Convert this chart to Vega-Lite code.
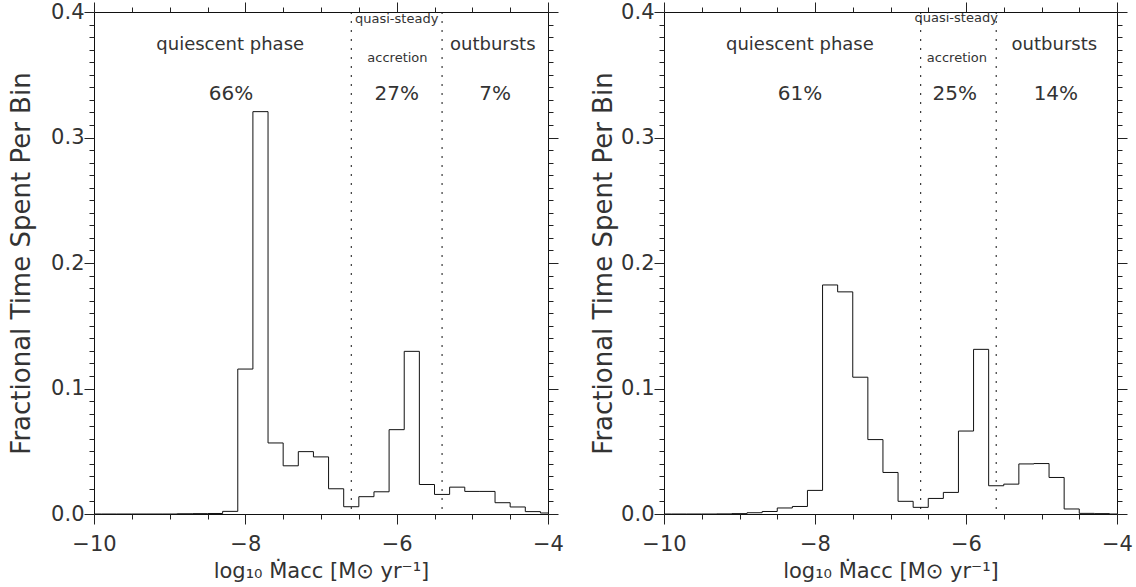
{
  "$schema": "https://vega.github.io/schema/vega-lite/v6.json",
  "padding": {"left": 8, "top": 0, "right": 5, "bottom": 2},
  "spacing": 116,
  "bounds": "flush",
  "config": {
    "view": {"stroke": "#111", "strokeWidth": 1},
    "axis": {
      "domain": false, "grid": false, "ticks": true, "zindex": 1,
      "labelFont": "DejaVu Sans", "labelFontSize": 21, "labelColor": "#333",
      "titleFont": "DejaVu Sans", "titleFontSize": 21, "titleFontWeight": "normal", "titleColor": "#333",
      "tickColor": "#222", "tickWidth": 1,
      "labelFlush": false, "labelOverlap": false
    },
    "text": {"font": "DejaVu Sans", "color": "#333"}
  },
  "datasets": {
    "hist": [
      {"panel": "L", "logMdot": -10.0, "frac": 0},
      {"panel": "L", "logMdot": -9.8, "frac": 0},
      {"panel": "L", "logMdot": -9.6, "frac": 0},
      {"panel": "L", "logMdot": -9.4, "frac": 0},
      {"panel": "L", "logMdot": -9.2, "frac": 0},
      {"panel": "L", "logMdot": -9.0, "frac": 0},
      {"panel": "L", "logMdot": -8.8, "frac": 0.0002},
      {"panel": "L", "logMdot": -8.6, "frac": 0.0003},
      {"panel": "L", "logMdot": -8.4, "frac": 0.0004},
      {"panel": "L", "logMdot": -8.2, "frac": 0.0021},
      {"panel": "L", "logMdot": -8.0, "frac": 0.1155},
      {"panel": "L", "logMdot": -7.8, "frac": 0.3206},
      {"panel": "L", "logMdot": -7.6, "frac": 0.0566},
      {"panel": "L", "logMdot": -7.4, "frac": 0.0384},
      {"panel": "L", "logMdot": -7.2, "frac": 0.0497},
      {"panel": "L", "logMdot": -7.0, "frac": 0.0455},
      {"panel": "L", "logMdot": -6.8, "frac": 0.0201},
      {"panel": "L", "logMdot": -6.6, "frac": 0.0058},
      {"panel": "L", "logMdot": -6.4, "frac": 0.0138},
      {"panel": "L", "logMdot": -6.2, "frac": 0.0177},
      {"panel": "L", "logMdot": -6.0, "frac": 0.0672},
      {"panel": "L", "logMdot": -5.8, "frac": 0.1296},
      {"panel": "L", "logMdot": -5.6, "frac": 0.0235},
      {"panel": "L", "logMdot": -5.4, "frac": 0.0156},
      {"panel": "L", "logMdot": -5.2, "frac": 0.0214},
      {"panel": "L", "logMdot": -5.0, "frac": 0.0180},
      {"panel": "L", "logMdot": -4.8, "frac": 0.0180},
      {"panel": "L", "logMdot": -4.6, "frac": 0.0090},
      {"panel": "L", "logMdot": -4.4, "frac": 0.0056},
      {"panel": "L", "logMdot": -4.2, "frac": 0.0019},
      {"panel": "L", "logMdot": -4.0, "frac": 0.0008},
      {"panel": "R", "logMdot": -10.0, "frac": 0},
      {"panel": "R", "logMdot": -9.8, "frac": 0},
      {"panel": "R", "logMdot": -9.6, "frac": 0},
      {"panel": "R", "logMdot": -9.4, "frac": 0},
      {"panel": "R", "logMdot": -9.2, "frac": 0.0001},
      {"panel": "R", "logMdot": -9.0, "frac": 0.0003},
      {"panel": "R", "logMdot": -8.8, "frac": 0.0010},
      {"panel": "R", "logMdot": -8.6, "frac": 0.0020},
      {"panel": "R", "logMdot": -8.4, "frac": 0.0048},
      {"panel": "R", "logMdot": -8.2, "frac": 0.0060},
      {"panel": "R", "logMdot": -8.0, "frac": 0.0188},
      {"panel": "R", "logMdot": -7.8, "frac": 0.1825},
      {"panel": "R", "logMdot": -7.6, "frac": 0.1770},
      {"panel": "R", "logMdot": -7.4, "frac": 0.1090},
      {"panel": "R", "logMdot": -7.2, "frac": 0.0593},
      {"panel": "R", "logMdot": -7.0, "frac": 0.0331},
      {"panel": "R", "logMdot": -6.8, "frac": 0.0101},
      {"panel": "R", "logMdot": -6.6, "frac": 0.0053},
      {"panel": "R", "logMdot": -6.4, "frac": 0.0124},
      {"panel": "R", "logMdot": -6.2, "frac": 0.0172},
      {"panel": "R", "logMdot": -6.0, "frac": 0.0661},
      {"panel": "R", "logMdot": -5.8, "frac": 0.1312},
      {"panel": "R", "logMdot": -5.6, "frac": 0.0225},
      {"panel": "R", "logMdot": -5.4, "frac": 0.0238},
      {"panel": "R", "logMdot": -5.2, "frac": 0.0399},
      {"panel": "R", "logMdot": -5.0, "frac": 0.0402},
      {"panel": "R", "logMdot": -4.8, "frac": 0.0291},
      {"panel": "R", "logMdot": -4.6, "frac": 0.0040},
      {"panel": "R", "logMdot": -4.4, "frac": 0.0005},
      {"panel": "R", "logMdot": -4.2, "frac": 0.0003},
      {"panel": "R", "logMdot": -4.0, "frac": 0}
    ],
    "dividers": [
      {"panel": "L", "logMdot": -6.6},
      {"panel": "L", "logMdot": -5.4},
      {"panel": "R", "logMdot": -6.6},
      {"panel": "R", "logMdot": -5.6}
    ],
    "notes": [
      {"panel": "L", "kind": "phase", "label": "quiescent phase", "logMdot": -8.2, "frac": 0.370},
      {"panel": "L", "kind": "phase", "label": "outbursts", "logMdot": -4.73, "frac": 0.370},
      {"panel": "L", "kind": "pct", "label": "66%", "logMdot": -8.19, "frac": 0.3296},
      {"panel": "L", "kind": "pct", "label": "27%", "logMdot": -6.0, "frac": 0.3296},
      {"panel": "L", "kind": "pct", "label": "7%", "logMdot": -4.70, "frac": 0.3296},
      {"panel": "L", "kind": "small", "label": "quasi-steady", "logMdot": -6.0, "frac": 0.391},
      {"panel": "L", "kind": "small", "label": "accretion", "logMdot": -5.99, "frac": 0.360},
      {"panel": "R", "kind": "phase", "label": "quiescent phase", "logMdot": -8.2, "frac": 0.370},
      {"panel": "R", "kind": "phase", "label": "outbursts", "logMdot": -4.83, "frac": 0.370},
      {"panel": "R", "kind": "pct", "label": "61%", "logMdot": -8.2, "frac": 0.3296},
      {"panel": "R", "kind": "pct", "label": "25%", "logMdot": -6.15, "frac": 0.3296},
      {"panel": "R", "kind": "pct", "label": "14%", "logMdot": -4.81, "frac": 0.3296},
      {"panel": "R", "kind": "small", "label": "quasi-steady", "logMdot": -6.13, "frac": 0.392},
      {"panel": "R", "kind": "small", "label": "accretion", "logMdot": -6.12, "frac": 0.3605}
    ]
  },
  "hconcat": [
    {
      "width": 454, "height": 502,
      "resolve": {"axis": {"x": "independent", "y": "independent"}},
      "layer": [
        {
          "data": {"name": "hist"},
          "transform": [{"filter": "datum.panel === 'L'"}],
          "mark": {"type": "line", "interpolate": "step", "color": "#111", "strokeWidth": 1, "clip": true},
          "encoding": {
            "x": {"field": "logMdot", "type": "quantitative", "scale": {"domain": [-10, -4], "nice": false, "zero": false},
                  "axis": {"orient": "bottom", "values": [-10, -8, -6, -4], "format": "d", "tickSize": 10, "labelPadding": 9, "title": "log₁₀ Ṁacc [M⊙ yr⁻¹]", "titlePadding": 6}},
            "y": {"field": "frac", "type": "quantitative", "scale": {"domain": [0, 0.4], "nice": false, "zero": false},
                  "axis": {"orient": "left", "values": [0, 0.1, 0.2, 0.3, 0.4], "format": ".1f", "tickSize": 10, "labelPadding": 0, "title": "Fractional Time Spent Per Bin", "titleFontSize": 26, "titlePadding": 16}}
          }
        },
        {
          "data": {"name": "notes"},
          "transform": [{"filter": "datum.panel === 'L' && datum.kind === 'phase'"}],
          "mark": {"type": "text", "fontSize": 18, "align": "center", "baseline": "alphabetic"},
          "encoding": {
            "x": {"field": "logMdot", "type": "quantitative", "scale": {"domain": [-10, -4], "nice": false, "zero": false},
                  "axis": {"orient": "top", "values": [-10, -8, -6, -4], "tickSize": 10, "labels": false, "title": null}},
            "y": {"field": "frac", "type": "quantitative", "scale": {"domain": [0, 0.4], "nice": false, "zero": false},
                  "axis": {"orient": "right", "values": [0, 0.1, 0.2, 0.3, 0.4], "tickSize": 10, "labels": false, "title": null}},
            "text": {"field": "label"}
          }
        },
        {
          "data": {"name": "notes"},
          "transform": [{"filter": "datum.panel === 'L' && datum.kind === 'pct'"}],
          "mark": {"type": "text", "fontSize": 20, "align": "center", "baseline": "alphabetic"},
          "encoding": {
            "x": {"field": "logMdot", "type": "quantitative", "scale": {"domain": [-10, -4], "nice": false, "zero": false},
                  "axis": {"orient": "bottom", "values": [-9.5, -9, -8.5, -7.5, -7, -6.5, -5.5, -5, -4.5], "tickSize": 5, "labels": false, "title": null}},
            "y": {"field": "frac", "type": "quantitative", "scale": {"domain": [0, 0.4], "nice": false, "zero": false},
                  "axis": {"orient": "left", "values": [0.01,0.02,0.03,0.04,0.05,0.06,0.07,0.08,0.09,0.11,0.12,0.13,0.14,0.15,0.16,0.17,0.18,0.19,0.21,0.22,0.23,0.24,0.25,0.26,0.27,0.28,0.29,0.31,0.32,0.33,0.34,0.35,0.36,0.37,0.38,0.39], "tickSize": 5, "labels": false, "title": null}},
            "text": {"field": "label"}
          }
        },
        {
          "data": {"name": "notes"},
          "transform": [{"filter": "datum.panel === 'L' && datum.kind === 'small'"}],
          "mark": {"type": "text", "fontSize": 13, "align": "center", "baseline": "alphabetic"},
          "encoding": {
            "x": {"field": "logMdot", "type": "quantitative", "scale": {"domain": [-10, -4], "nice": false, "zero": false},
                  "axis": {"orient": "top", "values": [-9.5, -9, -8.5, -7.5, -7, -6.5, -5.5, -5, -4.5], "tickSize": 5, "labels": false, "title": null}},
            "y": {"field": "frac", "type": "quantitative", "scale": {"domain": [0, 0.4], "nice": false, "zero": false},
                  "axis": {"orient": "right", "values": [0.01,0.02,0.03,0.04,0.05,0.06,0.07,0.08,0.09,0.11,0.12,0.13,0.14,0.15,0.16,0.17,0.18,0.19,0.21,0.22,0.23,0.24,0.25,0.26,0.27,0.28,0.29,0.31,0.32,0.33,0.34,0.35,0.36,0.37,0.38,0.39], "tickSize": 5, "labels": false, "title": null}},
            "text": {"field": "label"}
          }
        },
        {
          "data": {"name": "dividers"},
          "transform": [{"filter": "datum.panel === 'L'"}],
          "mark": {"type": "rule", "color": "#111", "strokeWidth": 1, "strokeDash": [2, 7]},
          "encoding": {
            "x": {"field": "logMdot", "type": "quantitative", "scale": {"domain": [-10, -4], "nice": false, "zero": false}, "axis": null}
          }
        }
      ]
    },
    {
      "width": 453, "height": 502,
      "resolve": {"axis": {"x": "independent", "y": "independent"}},
      "layer": [
        {
          "data": {"name": "hist"},
          "transform": [{"filter": "datum.panel === 'R'"}],
          "mark": {"type": "line", "interpolate": "step", "color": "#111", "strokeWidth": 1, "clip": true},
          "encoding": {
            "x": {"field": "logMdot", "type": "quantitative", "scale": {"domain": [-10, -4], "nice": false, "zero": false},
                  "axis": {"orient": "bottom", "values": [-10, -8, -6, -4], "format": "d", "tickSize": 10, "labelPadding": 9, "title": "log₁₀ Ṁacc [M⊙ yr⁻¹]", "titlePadding": 6}},
            "y": {"field": "frac", "type": "quantitative", "scale": {"domain": [0, 0.4], "nice": false, "zero": false},
                  "axis": {"orient": "left", "values": [0, 0.1, 0.2, 0.3, 0.4], "format": ".1f", "tickSize": 10, "labelPadding": 0, "title": "Fractional Time Spent Per Bin", "titleFontSize": 26, "titlePadding": 4}}
          }
        },
        {
          "data": {"name": "notes"},
          "transform": [{"filter": "datum.panel === 'R' && datum.kind === 'phase'"}],
          "mark": {"type": "text", "fontSize": 18, "align": "center", "baseline": "alphabetic"},
          "encoding": {
            "x": {"field": "logMdot", "type": "quantitative", "scale": {"domain": [-10, -4], "nice": false, "zero": false},
                  "axis": {"orient": "top", "values": [-10, -8, -6, -4], "tickSize": 10, "labels": false, "title": null}},
            "y": {"field": "frac", "type": "quantitative", "scale": {"domain": [0, 0.4], "nice": false, "zero": false},
                  "axis": {"orient": "right", "values": [0, 0.1, 0.2, 0.3, 0.4], "tickSize": 10, "labels": false, "title": null}},
            "text": {"field": "label"}
          }
        },
        {
          "data": {"name": "notes"},
          "transform": [{"filter": "datum.panel === 'R' && datum.kind === 'pct'"}],
          "mark": {"type": "text", "fontSize": 20, "align": "center", "baseline": "alphabetic"},
          "encoding": {
            "x": {"field": "logMdot", "type": "quantitative", "scale": {"domain": [-10, -4], "nice": false, "zero": false},
                  "axis": {"orient": "bottom", "values": [-9.5, -9, -8.5, -7.5, -7, -6.5, -5.5, -5, -4.5], "tickSize": 5, "labels": false, "title": null}},
            "y": {"field": "frac", "type": "quantitative", "scale": {"domain": [0, 0.4], "nice": false, "zero": false},
                  "axis": {"orient": "left", "values": [0.01,0.02,0.03,0.04,0.05,0.06,0.07,0.08,0.09,0.11,0.12,0.13,0.14,0.15,0.16,0.17,0.18,0.19,0.21,0.22,0.23,0.24,0.25,0.26,0.27,0.28,0.29,0.31,0.32,0.33,0.34,0.35,0.36,0.37,0.38,0.39], "tickSize": 5, "labels": false, "title": null}},
            "text": {"field": "label"}
          }
        },
        {
          "data": {"name": "notes"},
          "transform": [{"filter": "datum.panel === 'R' && datum.kind === 'small'"}],
          "mark": {"type": "text", "fontSize": 13, "align": "center", "baseline": "alphabetic"},
          "encoding": {
            "x": {"field": "logMdot", "type": "quantitative", "scale": {"domain": [-10, -4], "nice": false, "zero": false},
                  "axis": {"orient": "top", "values": [-9.5, -9, -8.5, -7.5, -7, -6.5, -5.5, -5, -4.5], "tickSize": 5, "labels": false, "title": null}},
            "y": {"field": "frac", "type": "quantitative", "scale": {"domain": [0, 0.4], "nice": false, "zero": false},
                  "axis": {"orient": "right", "values": [0.01,0.02,0.03,0.04,0.05,0.06,0.07,0.08,0.09,0.11,0.12,0.13,0.14,0.15,0.16,0.17,0.18,0.19,0.21,0.22,0.23,0.24,0.25,0.26,0.27,0.28,0.29,0.31,0.32,0.33,0.34,0.35,0.36,0.37,0.38,0.39], "tickSize": 5, "labels": false, "title": null}},
            "text": {"field": "label"}
          }
        },
        {
          "data": {"name": "dividers"},
          "transform": [{"filter": "datum.panel === 'R'"}],
          "mark": {"type": "rule", "color": "#111", "strokeWidth": 1, "strokeDash": [2, 7]},
          "encoding": {
            "x": {"field": "logMdot", "type": "quantitative", "scale": {"domain": [-10, -4], "nice": false, "zero": false}, "axis": null}
          }
        }
      ]
    }
  ]
}
